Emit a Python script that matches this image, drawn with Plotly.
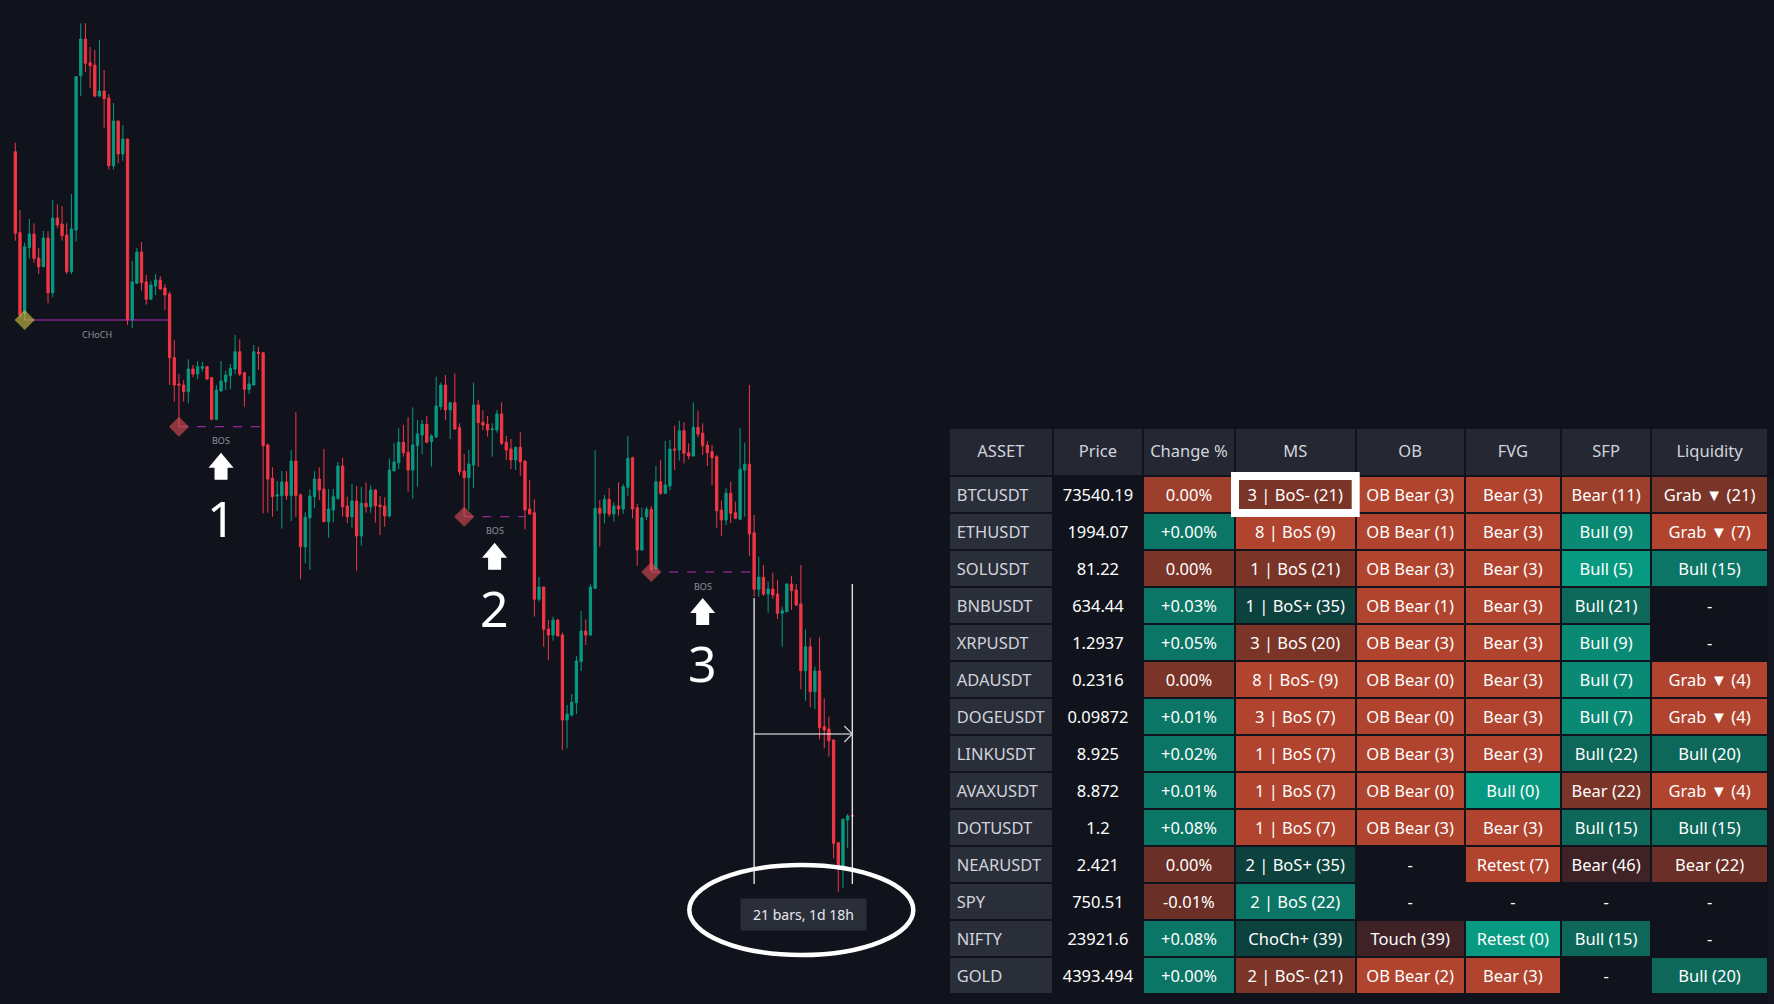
import plotly.graph_objects as go

W, H = 1774, 1004
BG = "#11131c"
UP = "#089981"
DOWN = "#f23645"
FONT = "Noto Sans"

# ---------------- BTCUSDT 2h candles ----------------
opens = [82840, 81706, 80582, 81496, 81688, 81352, 81230, 81632, 80866, 81912,
         81828, 81674, 81160, 81744, 83904, 84418, 84086, 84054, 83620, 83690,
         83592, 82644, 83270, 82808, 83018, 80484, 80998, 81436, 81016, 80774,
         80960, 81044, 80932, 80848, 79956, 79588, 79574, 79480, 79798, 79728,
         79808, 79830, 79676, 79094, 79490, 79620, 79704, 79798, 80040, 79746,
         79514, 79574, 80032, 80026, 78734, 78268, 78020, 78024, 78216, 78024,
         78510, 78034, 77310, 77716, 78010, 78258, 78118, 77660, 77824, 77988,
         78440, 77880, 77730, 77950, 77460, 77918, 77870, 78104, 77894, 77880,
         77740, 78374, 78486, 78772, 78632, 78384, 78724, 78874, 79024, 78780,
         78850, 79270, 79574, 79224, 79326, 78976, 78370, 78276, 78454, 79294,
         79052, 79024, 78948, 78944, 79168, 78772, 78678, 78524, 78702, 78510,
         77838, 77786, 76574, 76746, 76158, 76074, 76284, 76074, 74884, 74954,
         75126, 75700, 76130, 76074, 76728, 77848, 77778, 77974, 77768, 77880,
         77838, 78142, 78556, 77856, 77264, 77730, 77834, 76994, 78220, 78058,
         78160, 78678, 78664, 78934, 78626, 78580, 78982, 78898, 78734, 78640,
         78570, 77824, 77684, 78058, 77786, 77694, 78384, 78464, 77506, 76714,
         76882, 76648, 76718, 76648, 76378, 76400, 76788, 76704, 76508, 75574,
         75910, 75280, 75570, 74790, 74758, 74604, 73166, 72808, 73484, 73548]
highs = [82966, 82024, 81566, 81898, 81838, 81492, 81730, 81730, 82164, 82104,
         82080, 81838, 82248, 83900, 84638, 84638, 84306, 84264, 84404, 83984,
         83648, 83522, 83276, 83214, 83024, 81310, 81492, 81576, 81114, 81034,
         81128, 81100, 80988, 80880, 80204, 79728, 79644, 79934, 79854, 79910,
         79900, 79844, 79682, 79574, 79910, 79774, 79868, 80274, 80214, 79760,
         79700, 80134, 80110, 80030, 78758, 78422, 78230, 78370, 78370, 78664,
         79196, 78058, 77792, 78114, 78370, 78422, 78678, 78118, 78118, 78496,
         78556, 78010, 78188, 78160, 78146, 78212, 78170, 78110, 78020, 78002,
         78548, 78758, 78968, 79014, 79122, 79262, 79084, 79084, 79144, 78884,
         79690, 79606, 79714, 79340, 79738, 79038, 78608, 78664, 79606, 79364,
         79224, 79140, 79038, 79224, 79332, 78860, 78818, 78710, 78912, 78516,
         78244, 77974, 76886, 76752, 76284, 76330, 76302, 76106, 75094, 75248,
         75780, 76410, 76294, 76784, 78664, 77964, 78034, 78128, 77932, 78212,
         78188, 78860, 78570, 77908, 77856, 77870, 77880, 78440, 78524, 78790,
         78804, 79004, 79074, 79052, 78758, 79332, 79214, 79038, 78790, 78734,
         78594, 77954, 78128, 78220, 77940, 78968, 78766, 79574, 77754, 77170,
         77054, 76820, 76946, 76844, 76470, 76794, 76904, 76788, 77054, 76154,
         76036, 75630, 76042, 75188, 74930, 74610, 73172, 73508, 73568, 73552]
lows = [81594, 80512, 80484, 81348, 81286, 81128, 81224, 80718, 80802, 81768,
        81594, 81128, 81128, 81580, 83620, 83960, 83736, 83602, 83610, 83176,
        82594, 82594, 82678, 82714, 80414, 80368, 80988, 80894, 80698, 80764,
        80834, 80904, 80624, 79574, 79340, 78990, 79340, 79318, 79682, 79658,
        79760, 79644, 79080, 79080, 79480, 79504, 79514, 79728, 79700, 79270,
        79448, 79568, 79784, 77778, 77786, 77730, 77810, 77562, 77964, 77670,
        77730, 76854, 77078, 76984, 77856, 77964, 77654, 77436, 77652, 77964,
        77730, 77638, 77576, 76974, 77324, 77786, 77786, 77646, 77474, 77590,
        77716, 78360, 78398, 78570, 78080, 77988, 78150, 78604, 78758, 78430,
        78828, 79224, 79084, 78818, 78950, 78314, 77730, 77824, 78136, 78430,
        78944, 78850, 78570, 78906, 78734, 78524, 78398, 78384, 78304, 77554,
        77762, 76330, 76540, 75910, 75724, 75994, 76054, 74464, 74488, 74930,
        74968, 75570, 75934, 76060, 76714, 77310, 77638, 77730, 77660, 77744,
        77768, 78024, 77708, 77040, 77258, 77684, 76956, 76978, 78034, 78052,
        78104, 78384, 78514, 78478, 78534, 78574, 78842, 78594, 78440, 78174,
        77576, 77460, 77614, 77638, 77694, 77688, 77730, 77180, 76610, 76610,
        76620, 76386, 76578, 76298, 75910, 76394, 76424, 76480, 75314, 75154,
        75062, 75034, 74614, 74488, 74370, 72948, 72480, 72528, 73088, 73536]
closes = [81698, 80554, 81510, 81688, 81348, 81230, 81632, 80866, 81912, 81814,
          81664, 81160, 81758, 83890, 84418, 84078, 84044, 83620, 83690, 83582,
          82644, 83270, 82808, 83018, 80484, 81016, 81436, 81006, 80774, 80974,
          81044, 80918, 80834, 79956, 79574, 79574, 79480, 79798, 79728, 79830,
          79830, 79658, 79094, 79504, 79630, 79714, 79808, 80040, 79728, 79514,
          79588, 80040, 80018, 78724, 78258, 78010, 78034, 78216, 78024, 78510,
          78024, 77310, 77722, 78020, 78258, 78104, 77660, 77838, 78010, 78440,
          77870, 77730, 77950, 77460, 77918, 77870, 78104, 77884, 77870, 77740,
          78384, 78496, 78772, 78626, 78384, 78734, 78888, 79024, 78772, 78860,
          79280, 79574, 79224, 79326, 78958, 78360, 78276, 78468, 79294, 79046,
          79014, 78944, 78958, 79168, 78758, 78664, 78524, 78702, 78500, 77824,
          77768, 76574, 76746, 76154, 76074, 76284, 76060, 74884, 74968, 75132,
          75710, 76130, 76074, 76746, 77848, 77778, 77974, 77768, 77880, 77838,
          78150, 78548, 77838, 77264, 77716, 77834, 76984, 78220, 78058, 78174,
          78678, 78664, 78934, 78618, 78580, 78982, 78888, 78724, 78626, 78556,
          77814, 77684, 78058, 77778, 77708, 78394, 78464, 77488, 76714, 76882,
          76648, 76718, 76634, 76378, 76414, 76788, 76694, 76494, 75574, 75910,
          75280, 75570, 74776, 74744, 74594, 73158, 72808, 73494, 73540.19, 73540.19]
bars = list(range(len(closes)))

# market-structure events: swing bar, breaking bar
swing_bars = [2, 35, 96, 136]
break_bars = [33, 53, 109, 158]
structure_labels = ["CHoCH", "BOS", "BOS", "BOS"]
callout_numbers = ["", "1", "2", "3"]

# bar-count measurement
measure_bars = [158, 179]
measure_top_prices = [76592, 76788]
measure_bottom_price = 72588
measure_mid_price = 74688
measure_text = "21 bars, 1d 18h"

# ---------------- scanner table ----------------
header = ["ASSET", "Price", "Change\u00a0%", "MS", "OB", "FVG", "SFP", "Liquidity"]
assets = ["BTCUSDT", "ETHUSDT", "SOLUSDT", "BNBUSDT", "XRPUSDT", "ADAUSDT", "DOGEUSDT",
          "LINKUSDT", "AVAXUSDT", "DOTUSDT", "NEARUSDT", "SPY", "NIFTY", "GOLD"]
prices = ["73540.19", "1994.07", "81.22", "634.44", "1.2937", "0.2316", "0.09872",
          "8.925", "8.872", "1.2", "2.421", "750.51", "23921.6", "4393.494"]
changes = ["0.00%", "+0.00%", "0.00%", "+0.03%", "+0.05%", "0.00%", "+0.01%",
           "+0.02%", "+0.01%", "+0.08%", "0.00%", "-0.01%", "+0.08%", "+0.00%"]
ms = ["3 | BoS- (21)", "8 | BoS (9)", "1 | BoS (21)", "1 | BoS+ (35)", "3 | BoS (20)",
      "8 | BoS- (9)", "3 | BoS (7)", "1 | BoS (7)", "1 | BoS (7)", "1 | BoS (7)",
      "2 | BoS+ (35)", "2 | BoS (22)", "ChoCh+ (39)", "2 | BoS- (21)"]
ob = ["OB Bear (3)", "OB Bear (1)", "OB Bear (3)", "OB Bear (1)", "OB Bear (3)",
      "OB Bear (0)", "OB Bear (0)", "OB Bear (3)", "OB Bear (0)", "OB Bear (3)",
      "-", "-", "Touch (39)", "OB Bear (2)"]
fvg = ["Bear (3)", "Bear (3)", "Bear (3)", "Bear (3)", "Bear (3)", "Bear (3)", "Bear (3)",
       "Bear (3)", "Bull (0)", "Bear (3)", "Retest (7)", "-", "Retest (0)", "Bear (3)"]
sfp = ["Bear (11)", "Bull (9)", "Bull (5)", "Bull (21)", "Bull (9)", "Bull (7)", "Bull (7)",
       "Bull (22)", "Bear (22)", "Bull (15)", "Bear (46)", "-", "Bull (15)", "-"]
liquidity = ["Grab ▼ (21)", "Grab ▼ (7)", "Bull (15)", "-", "-", "Grab ▼ (4)", "Grab ▼ (4)",
             "Bull (20)", "Grab ▼ (4)", "Bull (15)", "Bear (22)", "-", "-", "Bull (20)"]
highlight_cell = (0, 3)  # row, column framed in white

# ---------------- styles ----------------
PAL = {
    "r1": "#b0442e", "r2": "#9c3f2c", "r3": "#7a3428", "r4": "#6a2f26", "r5": "#3e2226",
    "g1": "#089981", "g2": "#0a8a74", "g3": "#0b7665", "g4": "#0d685a", "g5": "#0d413d",
    "no": BG,
}
change_style = ["r2", "g3", "r3", "g3", "g3", "r3", "g3", "g3", "g3", "g3", "r4", "r4", "g3", "g3"]
ms_style = ["r3", "r1", "r3", "g5", "r3", "r1", "r1", "r1", "r1", "r1", "g5", "g3", "g5", "r3"]
ob_style = ["r1"] * 10 + ["no", "no", "r5", "r1"]
fvg_style = ["r1"] * 8 + ["g1", "r1", "r1", "no", "g1", "r1"]
sfp_style = ["r2", "g2", "g1", "g4", "g2", "g2", "g2", "g4", "r3", "g4", "r5", "no", "g4", "no"]
liq_style = ["r3", "r1", "g3", "no", "no", "r1", "r1", "g4", "r1", "g4", "r4", "no", "no", "g4"]

# geometry (pixels of the 1774 x 1004 page)
P_TOP, PRICE_PER_PX = 84964, 14.0
BAR_PX, FIRST_BAR_PX = 4.676, 15.3
TABLE_LEFT, TABLE_TOP, HEADER_PX, ROW_PX = 948.7, 428, 48, 37
COL_PX = [104.3, 90, 92, 120.7, 109.3, 96, 90.7, 116.3]
DROP_HEADER, DROP_CELLS = 8.7, 4.2


def fx(p):
    return p / W


def fy(p):
    return 1 - p / H


fig = go.Figure()

fig.add_trace(go.Candlestick(
    x=bars, open=opens, high=highs, low=lows, close=closes,
    increasing=dict(line=dict(color=UP, width=1), fillcolor=UP),
    decreasing=dict(line=dict(color=DOWN, width=1), fillcolor=DOWN),
    whiskerwidth=0, hoverinfo="skip", showlegend=False,
))

shapes = []
annotations = []
for s, b, lab, num in zip(swing_bars, break_bars, structure_labels, callout_numbers):
    lvl = lows[s]
    choch = lab == "CHoCH"
    fig.add_trace(go.Scatter(
        x=[s, b], y=[lvl, lvl], mode="lines", hoverinfo="skip", showlegend=False,
        line=dict(color="#b42fb4", width=1, dash="solid" if choch else "dash"),
    ))
    fig.add_trace(go.Scatter(
        x=[s], y=[lvl], mode="markers", hoverinfo="skip", showlegend=False,
        marker=dict(symbol="diamond", size=15.5,
                    color="rgba(210,200,70,0.6)" if choch else "rgba(220,80,85,0.6)",
                    line=dict(width=0)),
    ))
    mid = (s + b) / 2
    annotations.append(dict(x=mid, y=lvl, xref="x", yref="y", text=lab, showarrow=False,
                            yshift=-14, font=dict(size=9, color="#8f929b", family=FONT)))
    if num:
        shapes.append(dict(
            type="path", xref="x", yref="y", xsizemode="pixel", ysizemode="pixel",
            xanchor=mid, yanchor=lvl,
            path="M 0,-26 L 12.5,-41 L 6.5,-41 L 6.5,-53 L -6.5,-53 L -6.5,-41 L -12.5,-41 Z",
            fillcolor="#ffffff", line=dict(width=0),
        ))
        annotations.append(dict(x=mid, y=lvl, xref="x", yref="y", text=num, showarrow=False,
                                yshift=-91, font=dict(size=50, color="#ffffff", family=FONT)))

# measurement tool
m0, m1 = measure_bars
for xb, top in zip(measure_bars, measure_top_prices):
    shapes.append(dict(type="line", xref="x", yref="y", x0=xb, x1=xb,
                       y0=measure_bottom_price, y1=top, line=dict(color="#ffffff", width=1.2)))
shapes.append(dict(type="line", xref="x", yref="y", x0=m0, x1=m1,
                   y0=measure_mid_price, y1=measure_mid_price,
                   line=dict(color="#ffffff", width=1.2)))
shapes.append(dict(type="path", xref="x", yref="y", xsizemode="pixel", ysizemode="pixel",
                   xanchor=m1, yanchor=measure_mid_price, path="M -8,8 L 0,0 L -8,-8",
                   line=dict(color="#d1d4dc", width=1.2)))
annotations.append(dict(x=(m0 + m1) / 2, y=measure_bottom_price, xref="x", yref="y",
                        text=measure_text, showarrow=False, yshift=-30,
                        xanchor="center", yanchor="middle",
                        width=125, height=31, borderpad=0, bgcolor="#2a2e39",
                        font=dict(size=14, color="#e6e8ee", family=FONT)))
# white ellipse highlight
shapes.append(dict(type="circle", xref="paper", yref="paper",
                   x0=fx(689.3), x1=fx(913.3), y0=fy(955), y1=fy(865),
                   line=dict(color="#ffffff", width=4.5)))

# ---------------- table ----------------
n = len(assets)
cols = [assets, prices, changes, ms, ob, fvg, sfp, liquidity]
fills = [["#2a2e39"] * n, [BG] * n] + [[PAL[k] for k in st] for st in
                                       [change_style, ms_style, ob_style, fvg_style, sfp_style, liq_style]]
font_cols = [["#d1d4dc"] * n] + [["#ffffff"] * n] * 7
tx0, tx1 = fx(TABLE_LEFT), fx(TABLE_LEFT + sum(COL_PX))

fig.add_trace(go.Table(
    domain=dict(x=[tx0, tx1], y=[0, fy(TABLE_TOP)]),
    columnwidth=COL_PX,
    header=dict(values=[""] * 8, height=HEADER_PX, fill_color="#252833",
                line=dict(color=BG, width=2)),
    cells=dict(values=[[""] * n for _ in cols], height=ROW_PX, fill_color=fills,
               line=dict(color=BG, width=2)),
))
fig.add_trace(go.Table(
    domain=dict(x=[tx0, tx1], y=[0, fy(TABLE_TOP + DROP_HEADER)]),
    columnwidth=COL_PX,
    header=dict(values=header, height=HEADER_PX - DROP_HEADER + DROP_CELLS,
                fill_color="rgba(0,0,0,0)", line=dict(color="rgba(0,0,0,0)", width=2),
                align="center", font=dict(family=FONT, size=16.5, color="#d1d4dc")),
    cells=dict(values=cols, height=ROW_PX, fill_color="rgba(0,0,0,0)",
               line=dict(color="rgba(0,0,0,0)", width=2),
               align=["left"] + ["center"] * 7,
               font=dict(family=FONT, size=16.5, color=font_cols)),
))

# white frame around highlighted cell
r, c = highlight_cell
cx0 = TABLE_LEFT + sum(COL_PX[:c])
cx1 = cx0 + COL_PX[c]
cy0 = TABLE_TOP + HEADER_PX + r * ROW_PX
cy1 = cy0 + ROW_PX
shapes.append(dict(type="rect", xref="paper", yref="paper",
                   x0=fx(cx0), x1=fx(cx1), y0=fy(cy1), y1=fy(cy0),
                   line=dict(color="#ffffff", width=8)))

fig.update_layout(
    width=W, height=H,
    margin=dict(l=0, r=0, t=0, b=0, pad=0),
    paper_bgcolor=BG, plot_bgcolor=BG,
    font=dict(family=FONT, color="#d1d4dc"),
    showlegend=False,
    boxgap=0.3, boxgroupgap=0.3,
    xaxis=dict(visible=False, range=[-FIRST_BAR_PX / BAR_PX, (W - FIRST_BAR_PX) / BAR_PX],
               rangeslider=dict(visible=False), fixedrange=True),
    yaxis=dict(visible=False, range=[P_TOP - PRICE_PER_PX * H, P_TOP], fixedrange=True),
    shapes=shapes,
    annotations=annotations,
)

fig.write_html("out.html", config={"displayModeBar": False},
               post_script="document.body.style.margin='0';document.body.style.overflow='hidden';")
